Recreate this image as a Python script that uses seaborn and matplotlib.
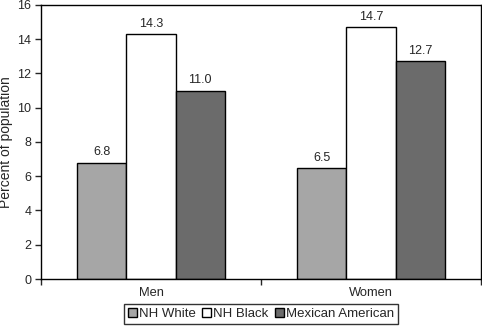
import matplotlib
matplotlib.use("Agg")
import matplotlib.pyplot as plt
import seaborn as sns
import pandas as pd

groups = ["Men", "Women"]
series = ["NH White", "NH Black", "Mexican American"]
nh_white = [6.8, 6.5]
nh_black = [14.3, 14.7]
mexican_american = [11.0, 12.7]
colors = ["#a6a6a6", "#ffffff", "#6b6b6b"]

df = pd.DataFrame({
    "group": groups * 3,
    "series": [s for s in series for _ in groups],
    "value": nh_white + nh_black + mexican_american,
})

sns.set_style("white")
plt.rcParams["font.family"] = ["Liberation Sans", "DejaVu Sans"]

fig = plt.figure(figsize=(4.82, 3.30), dpi=100)
ax = fig.add_axes([0.085, 0.1545, 0.913, 0.8305])
sns.barplot(data=df, x="group", y="value", hue="series", hue_order=series,
            order=groups, palette=colors, width=0.67, edgecolor="black",
            linewidth=1.0, saturation=1, ax=ax, legend=True)

for cont in ax.containers:
    ax.bar_label(cont, fmt="%.1f", padding=3, fontsize=9)

ax.set_ylim(0, 16)
ax.set_yticks(range(0, 17, 2))
ax.set_xlim(-0.5, 1.5)
ax.set_xlabel("")
ax.set_ylabel("Percent of population", fontsize=10, labelpad=3)
ax.tick_params(axis="y", labelsize=9, length=4, direction="out", left=True, width=1, pad=3)
ax.tick_params(axis="x", labelsize=9.3, length=0, pad=6)
for sp in ax.spines.values():
    sp.set_color("black")
    sp.set_linewidth(1.0)
ax.set_xticks([-0.5, 0.5, 1.5], minor=True)
ax.tick_params(axis="x", which="minor", length=4, bottom=True, width=1)

leg = ax.legend(loc="upper center", bbox_to_anchor=(0.5, -0.092), ncol=3,
                frameon=True, fancybox=False, edgecolor="black", fontsize=9.5,
                handlelength=0.7, handleheight=0.7, handletextpad=0.15,
                columnspacing=0.45, borderpad=0.3, borderaxespad=0)
leg.get_frame().set_linewidth(1.0)

fig.savefig("out.png", dpi=100)
